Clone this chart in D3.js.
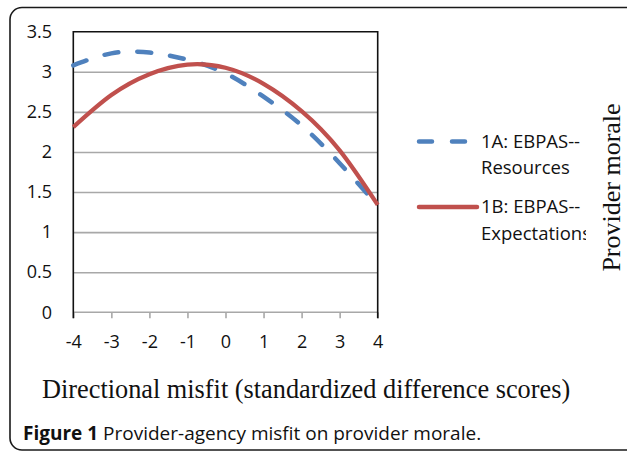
<!DOCTYPE html>
<html>
<head>
<meta charset="utf-8">
<script src="https://cdn.jsdelivr.net/npm/d3@7"></script>
<style>
  body { margin: 0; background: #fff; }
  svg { display: block; }
  .tick text { font-family: "Open Sans", sans-serif; font-size: 18px; fill: #111; }
</style>
</head>
<body>
<svg id="chart" width="627" height="452"></svg>
<script>
// values
const xTicks = [-4, -3, -2, -1, 0, 1, 2, 3, 4];
const yTicks = [0, 0.5, 1, 1.5, 2, 2.5, 3, 3.5];
const misfit = [-4, -3, -2, -1, 0, 1, 2, 3, 4];
const resources = [3.08, 3.23, 3.24, 3.15, 2.98, 2.69, 2.33, 1.86, 1.33];
const expectations = [2.31, 2.71, 2.97, 3.09, 3.05, 2.85, 2.51, 2.02, 1.34];
const seriesNames = ["1A: EBPAS--", "Resources", "1B: EBPAS--", "Expectations"];

const svg = d3.select("#chart");

const x = d3.scaleLinear().domain([-4, 4]).range([73.3, 377.7]);
const y = d3.scaleLinear().domain([0, 3.5]).range([312.3, 31.7]);

// outer figure frame, rounded, runs off right and bottom
svg.append("rect")
    .attr("x", 10).attr("y", 7.5)
    .attr("width", 700).attr("height", 442.5)
    .attr("rx", 12)
    .style("fill", "none").style("stroke", "#1a1a1a").style("stroke-width", 1.6);

// horizontal gridlines
svg.append("g")
    .attr("transform", `translate(${x(-4)},0)`)
    .call(d3.axisLeft(y).tickValues(yTicks.filter(v => v > 0 && v < 3.5))
        .tickSize(-(x(4) - x(-4))).tickFormat(""))
    .call(g => g.select(".domain").remove())
    .call(g => g.selectAll("line").style("stroke", "#a8a8a8").style("stroke-width", 1.6));

// bottom axis (grey) with ticks
svg.append("g")
    .attr("transform", `translate(0,${y(0)})`)
    .call(d3.axisBottom(x).tickValues(xTicks).tickSize(6).tickPadding(13)
        .tickFormat(d => String(d)))
    .call(g => g.select(".domain").attr("d", `M${x(-4)},0H${x(4)}`)
        .style("stroke", "#a8a8a8").style("stroke-width", 1.6))
    .call(g => g.selectAll("line").style("stroke", "#a8a8a8").style("stroke-width", 1.6))
    .call(g => g.selectAll("text").attr("dy", "0.35em").attr("y", 29));

// left axis labels
svg.append("g")
    .attr("transform", `translate(52,0)`)
    .call(d3.axisLeft(y).tickValues(yTicks).tickSize(0).tickPadding(0)
        .tickFormat(d => String(d)))
    .call(g => g.select(".domain").remove());

// plot frame: left, top, right in black
svg.append("path")
    .attr("d", `M${x(-4)},${y(0) + 6}V${y(3.5)}H${x(4)}V${y(0) + 6}`)
    .style("fill", "none").style("stroke", "#111").style("stroke-width", 1.6);

const line = d3.line()
    .x((d, i) => x(misfit[i]))
    .y(d => y(d))
    .curve(d3.curveNatural);

svg.append("path")
    .datum(resources)
    .attr("d", line)
    .style("fill", "none").style("stroke", "#4F81BD")
    .style("stroke-width", 4.5).style("stroke-linecap", "round")
    .style("stroke-dasharray", "14 19");

svg.append("path")
    .datum(expectations)
    .attr("d", line)
    .style("fill", "none").style("stroke", "#C0504D")
    .style("stroke-width", 4.2);

// legend
svg.append("clipPath").attr("id", "legclip")
  .append("rect").attr("x", 400).attr("y", 100).attr("width", 186).attr("height", 160);

const legend = svg.append("g").attr("clip-path", "url(#legclip)");

legend.append("line")
    .attr("x1", 419).attr("x2", 468).attr("y1", 141.5).attr("y2", 141.5)
    .style("stroke", "#4F81BD").style("stroke-width", 4.5)
    .style("stroke-linecap", "round").style("stroke-dasharray", "13 20");
legend.append("line")
    .attr("x1", 419).attr("x2", 477).attr("y1", 207).attr("y2", 207)
    .style("stroke", "#C0504D").style("stroke-width", 4.5)
    .style("stroke-linecap", "round");

legend.selectAll("text.leg")
    .data(seriesNames)
    .join("text").attr("class", "leg")
    .attr("x", 481)
    .attr("y", (d, i) => [141.5, 168, 207, 233.5][i])
    .attr("dy", "0.35em")
    .style("font-family", "'Open Sans', sans-serif")
    .style("font-size", "18.5px")
    .style("fill", "#111")
    .text(d => d);

// axis titles
svg.append("text")
    .attr("x", 42).attr("y", 398)
    .style("font-family", "'Liberation Serif', 'Times New Roman', serif")
    .style("font-size", "26.3px").style("fill", "#111")
    .text("Directional misfit (standardized difference scores)");

svg.append("text")
    .attr("transform", "translate(620,187.5) rotate(-90)")
    .attr("text-anchor", "middle")
    .style("font-family", "'Liberation Serif', 'Times New Roman', serif")
    .style("font-size", "26px").style("fill", "#111")
    .text("Provider morale");

// caption
const cap = svg.append("text")
    .attr("x", 23).attr("y", 440)
    .style("font-family", "'Open Sans', sans-serif")
    .style("font-size", "19px").style("fill", "#111");
cap.append("tspan").style("font-weight", "bold").text("Figure 1");
cap.append("tspan").text(" Provider-agency misfit on provider morale.");
</script>
</body>
</html>
